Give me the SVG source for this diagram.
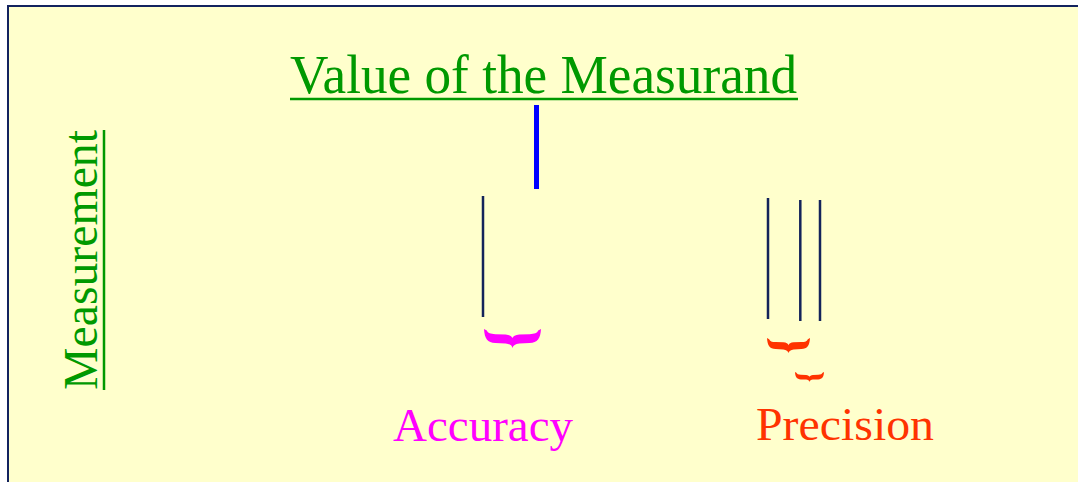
<svg xmlns="http://www.w3.org/2000/svg" width="1078" height="482" viewBox="0 0 1078 482">
  <defs>
    <style>
      .serif { font-family: "Liberation Serif", "Times New Roman", serif; }
      .green { fill: #009900; }
      .tick { stroke: #13235a; stroke-width: 2.5; }
      .uline { stroke: #009900; stroke-width: 2.5; }
    </style>
    <path id="brace" d="M0,0 C0.01,0.5 0.06,0.72 0.2,0.74 L0.38,0.76 C0.45,0.78 0.49,0.86 0.5,1 C0.51,0.86 0.55,0.78 0.62,0.76 L0.8,0.74 C0.94,0.72 0.99,0.5 1,0 L0.95,0.08 C0.93,0.22 0.89,0.26 0.8,0.27 L0.62,0.29 C0.55,0.31 0.51,0.38 0.5,0.48 C0.49,0.38 0.45,0.31 0.38,0.29 L0.2,0.27 C0.11,0.26 0.07,0.22 0.05,0.08 Z"/>
  </defs>
  <rect x="0" y="0" width="1078" height="482" fill="#ffffff"/>
  <rect x="8" y="6" width="1080" height="490" fill="#FFFFCC" stroke="#13235e" stroke-width="2"/>

  <g id="title">
    <text class="serif green" x="290" y="93" font-size="54" textLength="507" lengthAdjust="spacingAndGlyphs">Value of the Measurand</text>
    <line class="uline" x1="290" y1="99" x2="798" y2="99"/>
  </g>

  <g id="measurement-axis">
    <text class="serif green" font-size="48" transform="translate(97,390) rotate(-90)" textLength="260" lengthAdjust="spacingAndGlyphs">Measurement</text>
    <line class="uline" x1="104" y1="130" x2="104" y2="390"/>
  </g>

  <g id="connectors">
    <line x1="536.5" y1="105" x2="536.5" y2="189" stroke="#0000ff" stroke-width="5"/>
    <line class="tick" x1="483" y1="196" x2="483" y2="317"/>
    <line class="tick" x1="768" y1="198" x2="768" y2="319"/>
    <line class="tick" x1="800.3" y1="200" x2="800.3" y2="321"/>
    <line class="tick" x1="820" y1="200" x2="820" y2="321"/>
  </g>

  <g id="accuracy">
    <use href="#brace" fill="#FF00FF" transform="translate(484,329) scale(57,19)"/>
    <text class="serif" x="393" y="441" font-size="47" fill="#FF00FF" textLength="180" lengthAdjust="spacingAndGlyphs">Accuracy</text>
  </g>

  <g id="precision">
    <use href="#brace" fill="#FF3300" transform="translate(767,338) scale(43,15)"/>
    <use href="#brace" fill="#FF3300" transform="translate(795,372) scale(29,10)"/>
    <text class="serif" x="756" y="440" font-size="47" fill="#FF3300" textLength="178" lengthAdjust="spacingAndGlyphs">Precision</text>
  </g>
</svg>
